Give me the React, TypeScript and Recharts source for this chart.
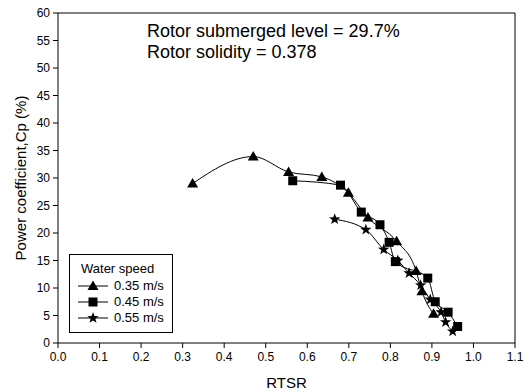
import React from "react";
import {
  ComposedChart,
  Line,
  XAxis,
  YAxis,
  ReferenceLine,
} from "recharts";

const rtsr035 = [0.324, 0.47, 0.555, 0.635, 0.699, 0.746, 0.815, 0.862, 0.876, 0.904];
const cp035 = [29.0, 33.9, 31.1, 30.2, 27.3, 22.8, 18.5, 13.1, 9.4, 5.3];

const rtsr045 = [0.565, 0.68, 0.73, 0.775, 0.797, 0.812, 0.89, 0.908, 0.939, 0.962];
const cp045 = [29.5, 28.7, 23.8, 21.5, 18.3, 14.8, 11.8, 7.5, 5.6, 3.0];

const rtsr055 = [0.666, 0.741, 0.784, 0.818, 0.845, 0.873, 0.896, 0.922, 0.933, 0.95];
const cp055 = [22.5, 20.6, 17.0, 15.0, 12.7, 10.5, 7.9, 5.6, 3.8, 2.1];

const xTicks = [0, 0.1, 0.2, 0.3, 0.4, 0.5, 0.6, 0.7, 0.8, 0.9, 1.0, 1.1];
const yTicks = [0, 5, 10, 15, 20, 25, 30, 35, 40, 45, 50, 55, 60];

const speedLabels = ["0.35 m/s", "0.45 m/s", "0.55 m/s"];

const toRows = (xs: number[], ys: number[]) => xs.map((x, i) => ({ x, y: ys[i] }));

const FONT = "'Liberation Sans', Arial, sans-serif";

// markers
const Triangle = ({ cx, cy }: any) => (
  <path d={`M${cx},${cy - 5.5} L${cx + 5.5},${cy + 4} L${cx - 5.5},${cy + 4} Z`} fill="#000" />
);
const Square = ({ cx, cy }: any) => (
  <rect x={cx - 4.5} y={cy - 4.5} width={9} height={9} fill="#000" />
);
const Star = ({ cx, cy }: any) => {
  const pts: string[] = [];
  for (let i = 0; i < 10; i++) {
    const r = i % 2 === 0 ? 6 : 2.4;
    const a = -Math.PI / 2 + (i * Math.PI) / 5;
    pts.push(`${cx + r * Math.cos(a)},${cy + r * Math.sin(a)}`);
  }
  return <polygon points={pts.join(" ")} fill="#000" />;
};

const markers = [Triangle, Square, Star];

const LegendBox = () => (
  <div
    style={{
      position: "absolute",
      left: 69,
      top: 254,
      border: "1px solid #000",
      background: "#fff",
      width: 104,
      height: 79,
      boxSizing: "border-box",
      fontFamily: FONT,
      fontSize: 13,
      color: "#000",
      paddingTop: 6,
    }}
  >
    <div style={{ marginLeft: 11, lineHeight: "16px", marginBottom: 1 }}>Water speed</div>
    {speedLabels.map((label, i) => {
      const M = markers[i];
      return (
        <div key={label} style={{ display: "flex", alignItems: "center", height: 16 }}>
          <svg width={44} height={16} style={{ display: "block" }}>
            <line x1={8} y1={8} x2={38} y2={8} stroke="#000" strokeWidth={1} />
            <M cx={23} cy={8} />
          </svg>
          <span style={{ lineHeight: "16px" }}>{label}</span>
        </div>
      );
    })}
  </div>
);

export default function App() {
  const tick = { fill: "#000", fontSize: 12, fontFamily: FONT };
  return (
    <div style={{ position: "absolute", left: 0, top: 0, width: 529, height: 392, background: "#fff" }}>
      <ComposedChart
        width={529}
        height={392}
        margin={{ top: 13, right: 14, left: 0, bottom: 0 }}
      >
        <XAxis
          type="number"
          dataKey="x"
          domain={[0, 1.1]}
          ticks={xTicks}
          tickFormatter={(v: number) => v.toFixed(1)}
          tick={tick}
          tickSize={5}
          tickMargin={4}
          height={49}
          stroke="#000"
          allowDataOverflow
          label={{
            value: "RTSR",
            position: "insideBottom",
            offset: 4,
            style: { fill: "#000", fontSize: 15, fontFamily: FONT },
          }}
        />
        <YAxis
          type="number"
          dataKey="y"
          domain={[0, 60]}
          ticks={yTicks}
          tick={tick}
          tickSize={5}
          tickMargin={3}
          width={58}
          stroke="#000"
          allowDataOverflow
          label={{
            value: "Power coefficient,Cp (%)",
            angle: -90,
            position: "insideLeft",
            offset: 21,
            style: { textAnchor: "middle", fill: "#000", fontSize: 15, fontFamily: FONT },
          }}
        />
        <ReferenceLine y={60} stroke="#000" />
        <ReferenceLine x={1.1} stroke="#000" />
        <Line
          data={toRows(rtsr035, cp035)}
          dataKey="y"
          type="monotone"
          stroke="#000"
          strokeWidth={1}
          dot={(p: any) => <Triangle key={`t${p.index}`} cx={p.cx} cy={p.cy} />}
          activeDot={false}
          isAnimationActive={false}
        />
        <Line
          data={toRows(rtsr045, cp045)}
          dataKey="y"
          type="monotone"
          stroke="#000"
          strokeWidth={1}
          dot={(p: any) => <Square key={`s${p.index}`} cx={p.cx} cy={p.cy} />}
          activeDot={false}
          isAnimationActive={false}
        />
        <Line
          data={toRows(rtsr055, cp055)}
          dataKey="y"
          type="monotone"
          stroke="#000"
          strokeWidth={1}
          dot={(p: any) => <Star key={`r${p.index}`} cx={p.cx} cy={p.cy} />}
          activeDot={false}
          isAnimationActive={false}
        />
      </ComposedChart>
      <LegendBox />
      <div
        style={{
          position: "absolute",
          left: 147,
          top: 21,
          fontFamily: FONT,
          fontSize: 18,
          lineHeight: "21px",
          color: "#000",
          whiteSpace: "nowrap",
        }}
      >
        <div>Rotor submerged level = 29.7%</div>
        <div>Rotor solidity = 0.378</div>
      </div>
    </div>
  );
}
